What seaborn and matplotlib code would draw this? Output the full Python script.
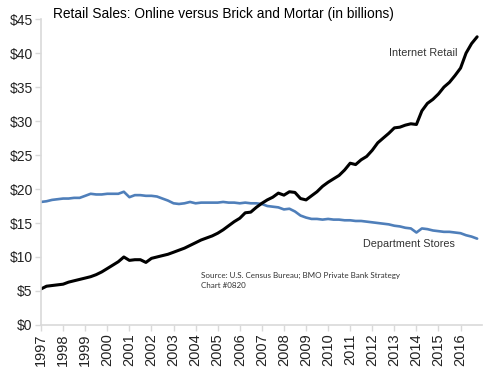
import pandas as pd
import matplotlib.pyplot as plt
import seaborn as sns

# quarterly readings, Jan 1997 .. Oct 2016 (billions of dollars)
quarters = pd.date_range("1997-01-01", periods=80, freq="QS")

internet_retail = [
    5.3, 5.7, 5.8, 5.9,
    6.0, 6.3, 6.5, 6.7,
    6.9, 7.1, 7.4, 7.8,
    8.3, 8.8, 9.3, 10.0,
    9.5, 9.6, 9.6, 9.2,
    9.8, 10.0, 10.2, 10.4,
    10.7, 11.0, 11.3, 11.7,
    12.1, 12.5, 12.8, 13.1,
    13.5, 14.0, 14.6, 15.2,
    15.7, 16.5, 16.6, 17.3,
    17.9, 18.4, 18.8, 19.4,
    19.1, 19.6, 19.5, 18.6,
    18.4, 19.0, 19.6, 20.4,
    21.0, 21.5, 22.0, 22.8,
    23.8, 23.6, 24.3, 24.8,
    25.7, 26.8, 27.5, 28.2,
    29.0, 29.1, 29.4, 29.6,
    29.5, 31.5, 32.6, 33.2,
    34.0, 35.0, 35.7, 36.7,
    37.8, 40.0, 41.4, 42.4,
]

department_stores = [
    18.1, 18.2, 18.4, 18.5,
    18.6, 18.6, 18.7, 18.7,
    19.0, 19.3, 19.2, 19.2,
    19.3, 19.3, 19.3, 19.6,
    18.8, 19.1, 19.1, 19.0,
    19.0, 18.9, 18.6, 18.3,
    17.9, 17.8, 17.9, 18.1,
    17.9, 18.0, 18.0, 18.0,
    18.0, 18.1, 18.0, 18.0,
    17.9, 18.0, 17.9, 17.9,
    17.8, 17.5, 17.4, 17.3,
    17.0, 17.1, 16.7, 16.1,
    15.8, 15.6, 15.6, 15.5,
    15.6, 15.5, 15.5, 15.4,
    15.4, 15.3, 15.3, 15.2,
    15.1, 15.0, 14.9, 14.8,
    14.6, 14.5, 14.3, 14.2,
    13.6, 14.2, 14.1, 13.9,
    13.8, 13.7, 13.7, 13.6,
    13.5, 13.2, 13.0, 12.7,
]

year_ticks = [str(y) for y in range(1997, 2017)]
dollar_ticks = list(range(0, 50, 5))

df = pd.DataFrame({"date": quarters,
                   "Internet Retail": internet_retail,
                   "Department Stores": department_stores})

sns.set_style("white")
plt.rcParams["font.family"] = ["Liberation Sans", "DejaVu Sans"]

fig = plt.figure(figsize=(5.01, 3.68), dpi=100)
ax = fig.add_axes([0.082, 0.117, 0.880, 0.831])

sns.lineplot(data=df, x="date", y="Department Stores", color="#4F7FBA", linewidth=1.9, ax=ax)
sns.lineplot(data=df, x="date", y="Internet Retail", color="black", linewidth=2.2, ax=ax)

ax.set_ylim(0, 45)
ax.set_xlim(pd.Timestamp("1997-01-01"), pd.Timestamp("2016-12-20"))
ax.set_yticks(dollar_ticks)
ax.set_yticklabels([f"${v}" for v in dollar_ticks], fontsize=10, color="#222222")
ax.set_xticks([pd.Timestamp(f"{y}-01-01") for y in year_ticks])
ax.set_xticklabels(year_ticks, rotation=90, fontsize=10.5, color="#222222")
ax.set_xlabel("")
ax.set_ylabel("")

for side in ["top", "right"]:
    ax.spines[side].set_visible(False)
for side in ["left", "bottom"]:
    ax.spines[side].set_color("#d9d9d9")
    ax.spines[side].set_linewidth(1.2)
ax.tick_params(axis="both", length=4, width=1, color="#d9d9d9", pad=2, left=True, bottom=True)

fig.text(53 / 501, 1 - 14 / 368, "Retail Sales: Online versus Brick and Mortar (in billions)",
         fontsize=9.9, va="center", ha="left", color="black")

ax.text(pd.Timestamp("2012-10-01"), 39.6, "Internet Retail", fontsize=7.8, color="#333333")
ax.text(pd.Timestamp("2011-08-01"), 11.5, "Department Stores", fontsize=7.8, color="#333333")
ax.text(pd.Timestamp("2004-04-01"), 5.4, "Source: U.S. Census Bureau; BMO Private Bank Strategy\nChart #0820",
        fontsize=5.8, family=["Lato", "DejaVu Sans"], color="#333333", linespacing=1.5)

plt.savefig("out.png", dpi=100)
plt.close()
